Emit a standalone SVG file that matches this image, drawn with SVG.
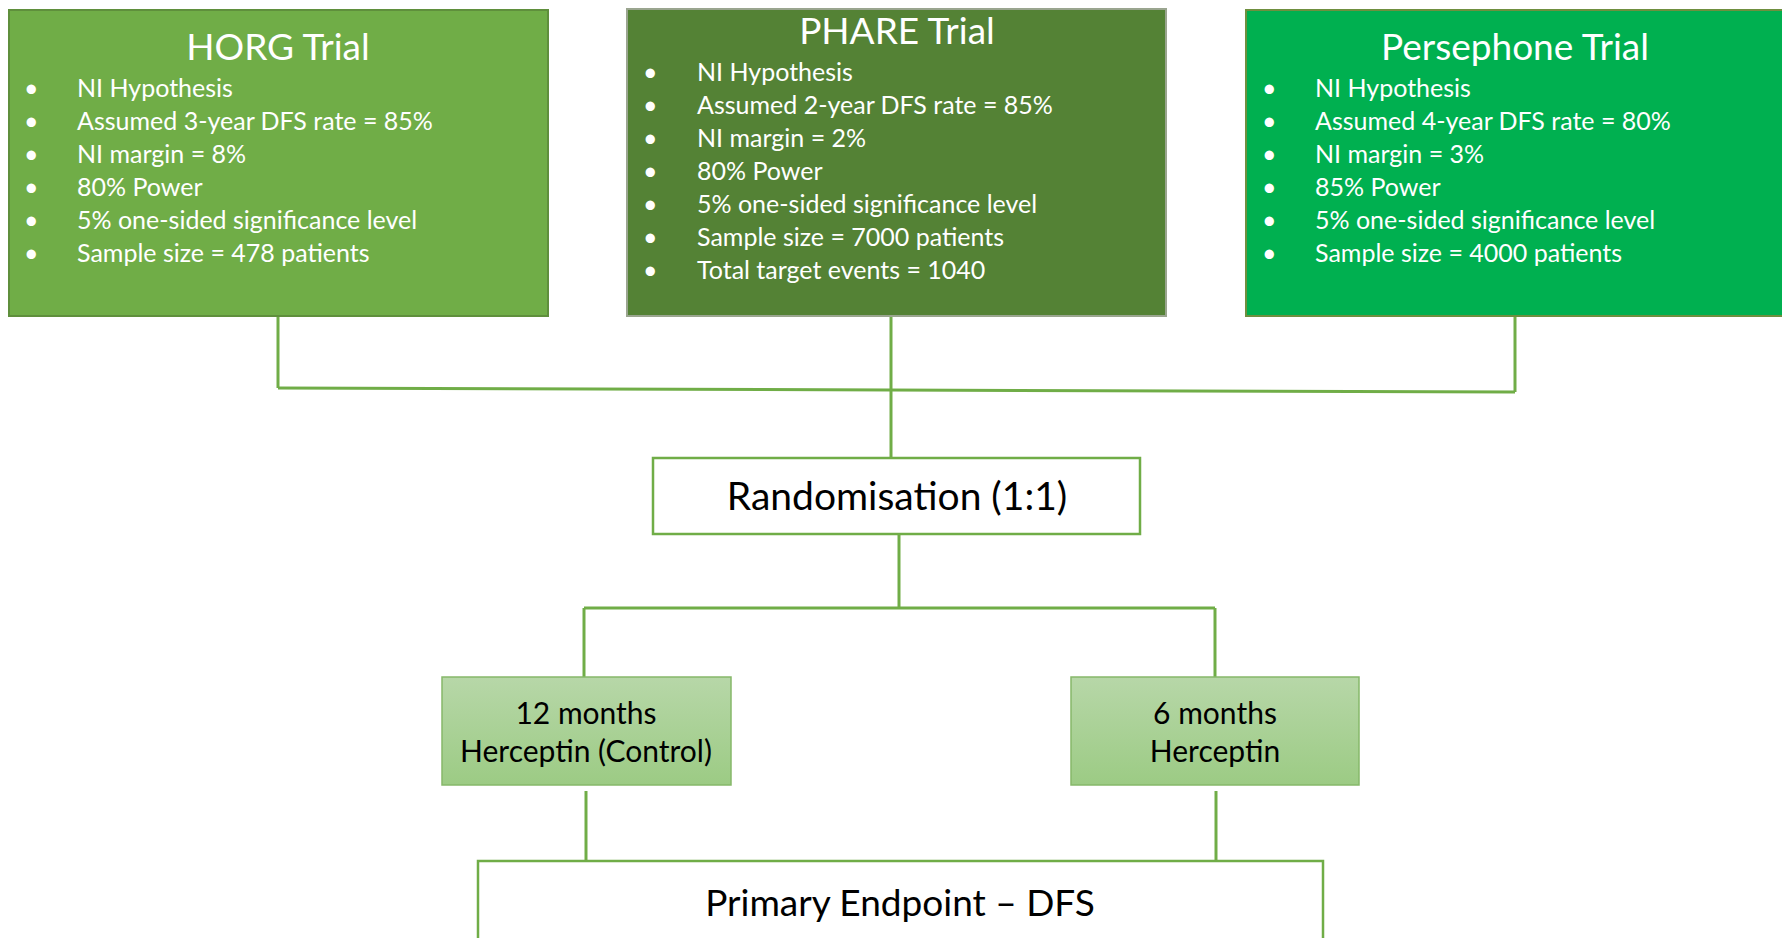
<svg xmlns="http://www.w3.org/2000/svg" width="1782" height="938" viewBox="0 0 1782 938">
<defs>
<linearGradient id="lg" x1="0" y1="0" x2="0" y2="1">
<stop offset="0" stop-color="#B7D7A8"/>
<stop offset="1" stop-color="#9CCB84"/>
</linearGradient>
<style>
.t{font-family:Lato,"Liberation Sans",sans-serif;}
.title{font-size:37px;fill:#fff;text-anchor:middle;}
.b{font-size:25px;fill:#fff;}
.dark{fill:#000;}
.conn{stroke:#70AD47;stroke-width:3;fill:none;}
</style>
</defs>
<rect width="1782" height="938" fill="#fff"/>
<g id="connectors">
<path class="conn" d="M278 316 V388"/>
<path class="conn" d="M1515 316 V392"/>
<path class="conn" d="M278 388 L1515 392"/>
<path class="conn" d="M891 316 V458"/>
<path class="conn" d="M899 534 V608"/>
<path class="conn" d="M584 608 H1215"/>
<path class="conn" d="M584 608 V677"/>
<path class="conn" d="M1215 608 V677"/>
<path class="conn" d="M586 791 V861"/>
<path class="conn" d="M1216 791 V861"/>
</g>
<g id="horg" class="t">
<rect x="9" y="10" width="539" height="306" fill="#70AD47" stroke="#5F8F3C" stroke-width="2"/>
<text class="title" x="278" y="60">HORG Trial</text>
<g class="b">
<text x="24" y="97">•</text><text x="77" y="97">NI Hypothesis</text>
<text x="24" y="130">•</text><text x="77" y="130">Assumed 3-year DFS rate = 85%</text>
<text x="24" y="163">•</text><text x="77" y="163">NI margin = 8%</text>
<text x="24" y="196">•</text><text x="77" y="196">80% Power</text>
<text x="24" y="229">•</text><text x="77" y="229">5% one-sided significance level</text>
<text x="24" y="262">•</text><text x="77" y="262">Sample size = 478 patients</text>
</g>
</g>
<g id="phare" class="t">
<rect x="627" y="9" width="539" height="307" fill="#548235" stroke="#9AA58F" stroke-width="2"/>
<text class="title" x="897" y="44">PHARE Trial</text>
<g class="b">
<text x="643" y="81">•</text><text x="697" y="81">NI Hypothesis</text>
<text x="643" y="114">•</text><text x="697" y="114">Assumed 2-year DFS rate = 85%</text>
<text x="643" y="147">•</text><text x="697" y="147">NI margin = 2%</text>
<text x="643" y="180">•</text><text x="697" y="180">80% Power</text>
<text x="643" y="213">•</text><text x="697" y="213">5% one-sided significance level</text>
<text x="643" y="246">•</text><text x="697" y="246">Sample size = 7000 patients</text>
<text x="643" y="279">•</text><text x="697" y="279">Total target events = 1040</text>
</g>
</g>
<g id="persephone" class="t">
<rect x="1246" y="10" width="540" height="306" fill="#00B050" stroke="#6F8F3F" stroke-width="2"/>
<text class="title" x="1515" y="60">Persephone Trial</text>
<g class="b">
<text x="1262" y="97">•</text><text x="1315" y="97">NI Hypothesis</text>
<text x="1262" y="130">•</text><text x="1315" y="130">Assumed 4-year DFS rate = 80%</text>
<text x="1262" y="163">•</text><text x="1315" y="163">NI margin = 3%</text>
<text x="1262" y="196">•</text><text x="1315" y="196">85% Power</text>
<text x="1262" y="229">•</text><text x="1315" y="229">5% one-sided significance level</text>
<text x="1262" y="262">•</text><text x="1315" y="262">Sample size = 4000 patients</text>
</g>
</g>
<g id="randomisation" class="t">
<rect x="653" y="458" width="487" height="76" fill="#fff" stroke="#70AD47" stroke-width="2.5"/>
<text x="897" y="510" font-size="39" text-anchor="middle" class="dark">Randomisation (1:1)</text>
</g>
<g id="arm12" class="t">
<rect x="442" y="677" width="289" height="108" fill="url(#lg)" stroke="#86B86A" stroke-width="1.5"/>
<text x="586" y="724" font-size="30" text-anchor="middle" class="dark">12 months</text>
<text x="586" y="762" font-size="30" text-anchor="middle" class="dark">Herceptin (Control)</text>
</g>
<g id="arm6" class="t">
<rect x="1071" y="677" width="288" height="108" fill="url(#lg)" stroke="#86B86A" stroke-width="1.5"/>
<text x="1215" y="724" font-size="30" text-anchor="middle" class="dark">6 months</text>
<text x="1215" y="762" font-size="30" text-anchor="middle" class="dark">Herceptin</text>
</g>
<g id="endpoint" class="t">
<rect x="478" y="861" width="845" height="90" fill="#fff" stroke="#70AD47" stroke-width="2.5"/>
<text x="900" y="916" font-size="37" text-anchor="middle" class="dark">Primary Endpoint – DFS</text>
</g>
</svg>
